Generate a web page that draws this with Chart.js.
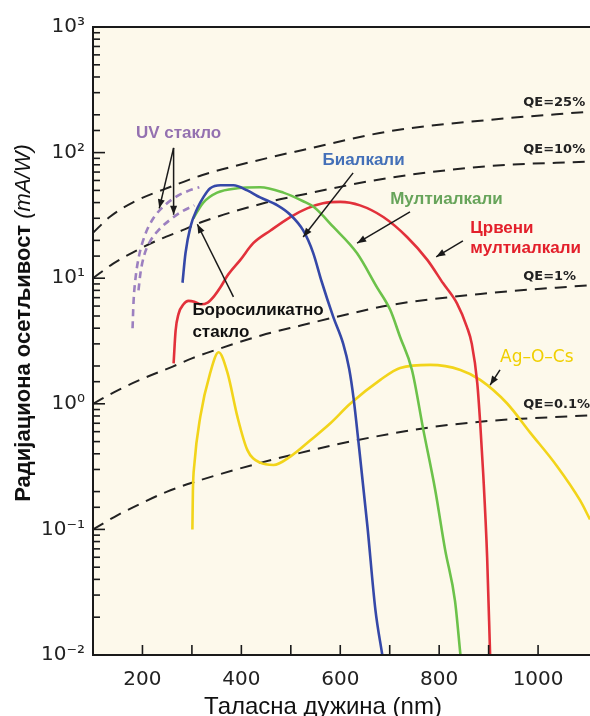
<!DOCTYPE html>
<html>
<head>
<meta charset="utf-8">
<script src="https://cdn.jsdelivr.net/npm/chart.js@4.4.1/dist/chart.umd.min.js"></script>
<style>
  html, body { margin: 0; padding: 0; background: #ffffff; }
  #wrap { width: 590px; height: 716px; }
</style>
</head>
<body>
<div id="wrap"><canvas id="chart-osetljivost"></canvas></div>
<script>
// Радијациона осетљивост фотокатода — подаци очитани са слике

// Таласна дужина (nm) и осетљивост (mA/W) за сваку криву
const bialkaliNm  = [281, 287, 297, 311, 323, 337, 358, 384, 412, 438, 473, 499, 525, 545, 562, 586, 606, 618, 627, 638, 655, 671, 685];
const bialkaliVal = [9.2, 15.8, 25.6, 36, 44, 52, 55, 55, 50, 44, 38, 32, 24, 16, 9.5, 4.9, 3.0, 1.9, 1.1, 0.45, 0.105, 0.023, 0.01];

const multiNm  = [303, 313, 323, 351, 392, 438, 485, 525, 546, 586, 634, 674, 701, 721, 745, 768, 792, 812, 832, 843];
const multiVal = [30, 35, 40, 48, 52, 53, 48, 41, 37, 25.6, 15.8, 8.5, 5.6, 3.4, 1.86, 0.62, 0.206, 0.069, 0.027, 0.01];

const redNm  = [263, 267, 273, 283, 293, 305, 318, 332, 345, 358, 372, 398, 424, 459, 499, 533, 565, 600, 640, 687, 735, 776, 808, 836, 856, 866, 877, 883, 889, 897, 903];
const redVal = [2.1, 3.8, 5.2, 6.2, 6.6, 6.5, 6.2, 6.4, 7.2, 8.5, 10.5, 14, 19, 24, 30.7, 36, 39.5, 40.5, 38, 30.7, 21.3, 14, 9.1, 6.3, 4.1, 3.0, 1.47, 0.70, 0.28, 0.06, 0.01];

const agocsNm  = [301, 302, 305, 317, 337, 354, 372, 392, 412, 438, 465, 499, 539, 580, 620, 681, 721, 782, 843, 883, 937, 984, 1038, 1085, 1105];
const agocsVal = [0.1, 0.2, 0.33, 0.79, 1.76, 2.57, 1.76, 0.79, 0.43, 0.34, 0.326, 0.38, 0.51, 0.70, 1.0, 1.55, 1.93, 2.04, 1.86, 1.55, 1.01, 0.59, 0.32, 0.17, 0.12];

const uvANm  = [180, 182, 186, 193, 205, 222, 245, 270, 295, 315];
const uvAVal = [4.0, 6.5, 10, 15, 22, 30, 38, 45, 50, 53];
const uvBNm  = [192, 196, 203, 215, 232, 255, 280, 305];
const uvBVal = [8, 11, 15, 19.5, 24, 29, 34, 38];

// Линије константне квантне ефикасности
const qe25Nm  = [100, 135, 180, 260, 320, 450, 520, 700, 900, 1105];
const qe25Val = [23, 31, 40, 54, 66, 90, 104, 148, 182, 212];
const qe10Nm  = [100, 140, 180, 230, 280, 320, 450, 520, 700, 900, 1105];
const qe10Val = [10, 13, 16, 20, 24, 28, 40, 46, 63, 78, 85];
const qe1Nm   = [100, 150, 200, 260, 300, 350, 440, 520, 600, 700, 900, 1105];
const qe1Val  = [1.0, 1.28, 1.58, 1.97, 2.3, 2.7, 3.5, 4.2, 5.0, 6.1, 7.6, 8.8];
const qe01Nm  = [100, 150, 200, 250, 300, 440, 500, 620, 770, 900, 1105];
const qe01Val = [0.1, 0.13, 0.163, 0.2, 0.235, 0.34, 0.39, 0.5, 0.64, 0.73, 0.81];

// Подеоци на осама
const xTickMarks  = [200, 300, 400, 500, 600, 700, 800, 900, 1000];
const xTickValues = [200, 400, 600, 800, 1000];
const xTickLabels = ['200', '400', '600', '800', '1000'];
const yTickExp    = [-2, -1, 0, 1, 2, 3];
const yTickLabels = ['10⁻²', '10⁻¹', '10⁰', '10¹', '10²', '10³'];

const COLORS = {
    paper:  '#fdf9eb',
    axis:   '#1a1a1a',
    dash:   '#222222',
    blue:   '#3548a8',
    green:  '#6cc24a',
    red:    '#e2313b',
    yellow: '#f2d41a',
    purple: '#9c80c0',
};

const pts = (xs, ys) => xs.map((x, i) => ({ x: x, y: ys[i] }));

const curve = (data, color) => ({
    data: data,
    borderColor: color,
    borderWidth: 2.6,
    pointRadius: 0,
    cubicInterpolationMode: 'monotone',
    fill: false,
});
const dashed = (data, color, dash, width) => ({
    data: data,
    borderColor: color,
    borderWidth: width,
    borderDash: dash,
    pointRadius: 0,
    cubicInterpolationMode: 'monotone',
    fill: false,
});

// Натписи и стрелице — у координатама података (nm, mA/W)
const BOLD = 'bold 17px "Liberation Sans", Arial, sans-serif';
const QEF  = 'bold 13px "DejaVu Sans", sans-serif';
const notes = [
    { text: 'UV стакло', x: 273, y: 143, color: '#9471b0', font: BOLD, align: 'center' },
    { text: 'Биалкали', x: 564, y: 87, color: '#4470b8', font: BOLD, align: 'left' },
    { text: 'Мултиалкали', x: 701, y: 42.8, color: '#67a45a', font: BOLD, align: 'left' },
    { text: 'Црвени', x: 863, y: 25.1, color: '#e3202b', font: BOLD, align: 'left' },
    { text: 'мултиалкали', x: 863, y: 17.4, color: '#e3202b', font: BOLD, align: 'left' },
    { text: 'Боросиликатно', x: 301, y: 5.6, color: '#111', font: BOLD, align: 'left' },
    { text: 'стакло', x: 301, y: 3.73, color: '#111', font: BOLD, align: 'left' },
    { text: 'Ag–O–Cs', x: 923, y: 2.32, color: '#f0cf00', font: '17px "DejaVu Sans", sans-serif', align: 'left' },
    { text: 'QE=25%', x: 970, y: 248, color: '#222', font: QEF, align: 'left' },
    { text: 'QE=10%', x: 970, y: 105, color: '#222', font: QEF, align: 'left' },
    { text: 'QE=1%', x: 970, y: 10.2, color: '#222', font: QEF, align: 'left' },
    { text: 'QE=0.1%', x: 970, y: 0.98, color: '#222', font: QEF, align: 'left' },
];
const arrows = [
    { from: [263, 109], to: [234, 36] },
    { from: [263, 109], to: [263, 32] },
    { from: [626, 69], to: [525, 21.3] },
    { from: [741, 33.7], to: [634, 19] },
    { from: [848, 19.8], to: [794, 14.8] },
    { from: [384, 7.1], to: [311, 26.9] },
    { from: [923, 1.86], to: [903, 1.41] },
];

function drawArrow(ctx, x1, y1, x2, y2) {
    ctx.beginPath();
    ctx.moveTo(x1, y1);
    ctx.lineTo(x2, y2);
    ctx.stroke();
    const a = Math.atan2(y2 - y1, x2 - x1);
    const L = 9, W = 3.5;
    ctx.beginPath();
    ctx.moveTo(x2, y2);
    ctx.lineTo(x2 - L * Math.cos(a) + W * Math.sin(a), y2 - L * Math.sin(a) - W * Math.cos(a));
    ctx.lineTo(x2 - L * Math.cos(a) - W * Math.sin(a), y2 - L * Math.sin(a) + W * Math.cos(a));
    ctx.closePath();
    ctx.fill();
}

const decor = {
    id: 'decor',
    beforeDraw(chart) {
        const { ctx, chartArea: a } = chart;
        ctx.save();
        ctx.fillStyle = COLORS.paper;
        ctx.fillRect(a.left, a.top, a.right - a.left, a.bottom - a.top);
        ctx.restore();
    },
    afterDraw(chart) {
        const { ctx, chartArea: a } = chart;
        const xs = chart.scales.x, ys = chart.scales.y;
        ctx.save();

        // оквир: лево, доле, горе
        ctx.strokeStyle = COLORS.axis;
        ctx.lineWidth = 2;
        ctx.beginPath();
        ctx.moveTo(a.right, a.top);
        ctx.lineTo(a.left, a.top);
        ctx.lineTo(a.left, a.bottom);
        ctx.lineTo(a.right, a.bottom);
        ctx.stroke();

        // подеоци окренути ка унутра
        ctx.lineWidth = 1.6;
        ys.ticks.forEach(t => {
            const lg = Math.log10(t.value);
            const major = Math.abs(lg - Math.round(lg)) < 1e-6;
            const py = ys.getPixelForValue(t.value);
            ctx.beginPath();
            ctx.moveTo(a.left, py);
            ctx.lineTo(a.left + (major ? 12 : 7), py);
            ctx.stroke();
        });
        xs.ticks.forEach(t => {
            const px = xs.getPixelForValue(t.value);
            ctx.beginPath();
            ctx.moveTo(px, a.bottom);
            ctx.lineTo(px, a.bottom - 10);
            ctx.stroke();
        });

        // стрелице
        ctx.strokeStyle = '#1a1a1a';
        ctx.fillStyle = '#1a1a1a';
        ctx.lineWidth = 1.5;
        arrows.forEach(r => {
            drawArrow(ctx,
                xs.getPixelForValue(r.from[0]), ys.getPixelForValue(r.from[1]),
                xs.getPixelForValue(r.to[0]), ys.getPixelForValue(r.to[1]));
        });

        // натписи
        ctx.textBaseline = 'middle';
        notes.forEach(n => {
            ctx.font = n.font;
            ctx.fillStyle = n.color;
            ctx.textAlign = n.align;
            ctx.fillText(n.text, xs.getPixelForValue(n.x), ys.getPixelForValue(n.y));
        });

        // наслови оса
        ctx.fillStyle = '#111';
        ctx.textAlign = 'center';
        ctx.textBaseline = 'alphabetic';
        ctx.font = '24px "Liberation Sans", Arial, sans-serif';
        ctx.fillText('Таласна дужина (nm)', 323, 714);

        const partA = 'Радијациона осетљивост ';
        const partB = '(mA/W)';
        const fA = 'bold 22px "Liberation Sans", Arial, sans-serif';
        const fB = 'italic 22px "Liberation Sans", Arial, sans-serif';
        ctx.font = fA; const wA = ctx.measureText(partA).width;
        ctx.font = fB; const wB = ctx.measureText(partB).width;
        ctx.translate(30, 323);
        ctx.rotate(-Math.PI / 2);
        ctx.textAlign = 'left';
        ctx.font = fA;
        ctx.fillText(partA, -(wA + wB) / 2, 0);
        ctx.font = fB;
        ctx.fillText(partB, -(wA + wB) / 2 + wA, 0);
        ctx.restore();
    }
};

new Chart(document.getElementById('chart-osetljivost'), {
    type: 'line',
    data: {
        datasets: [
            curve(pts(bialkaliNm, bialkaliVal), COLORS.blue),
            curve(pts(multiNm, multiVal), COLORS.green),
            curve(pts(redNm, redVal), COLORS.red),
            curve(pts(agocsNm, agocsVal), COLORS.yellow),
            dashed(pts(uvANm, uvAVal), COLORS.purple, [7, 5], 2.6),
            dashed(pts(uvBNm, uvBVal), COLORS.purple, [7, 5], 2.6),
            dashed(pts(qe25Nm, qe25Val), COLORS.dash, [12, 8], 2),
            dashed(pts(qe10Nm, qe10Val), COLORS.dash, [12, 8], 2),
            dashed(pts(qe1Nm, qe1Val), COLORS.dash, [12, 8], 2),
            dashed(pts(qe01Nm, qe01Val), COLORS.dash, [12, 8], 2),
        ]
    },
    options: {
        responsive: true,
        maintainAspectRatio: false,
        animation: false,
        layout: { padding: { top: 27, right: 0, left: 0, bottom: 0 } },
        plugins: {
            legend: { display: false },
            tooltip: { enabled: false },
        },
        scales: {
            x: {
                type: 'linear',
                min: 100,
                max: 1105,
                grid: { display: false, drawTicks: false },
                border: { display: false },
                afterBuildTicks: s => { s.ticks = xTickMarks.map(v => ({ value: v })); },
                ticks: {
                    autoSkip: false,
                    maxRotation: 0,
                    padding: 13,
                    color: '#222',
                    font: { family: '"DejaVu Sans", sans-serif', size: 20 },
                    callback: v => {
                        const i = xTickValues.indexOf(v);
                        return i >= 0 ? xTickLabels[i] : '';
                    }
                },
                afterFit: s => { s.height = 61; s.paddingRight = 0; s.paddingLeft = 0; }
            },
            y: {
                type: 'logarithmic',
                min: 0.01,
                max: 1000,
                grid: { display: false, drawTicks: false },
                border: { display: false },
                ticks: {
                    autoSkip: false,
                    padding: 8,
                    color: '#222',
                    font: { family: '"DejaVu Sans", sans-serif', size: 20 },
                    callback: v => {
                        const lg = Math.log10(v);
                        if (Math.abs(lg - Math.round(lg)) > 1e-6) return '';
                        const i = yTickExp.indexOf(Math.round(lg));
                        return i >= 0 ? yTickLabels[i] : '';
                    }
                },
                afterFit: s => { s.width = 93; }
            }
        }
    },
    plugins: [decor]
});
</script>
</body>
</html>
